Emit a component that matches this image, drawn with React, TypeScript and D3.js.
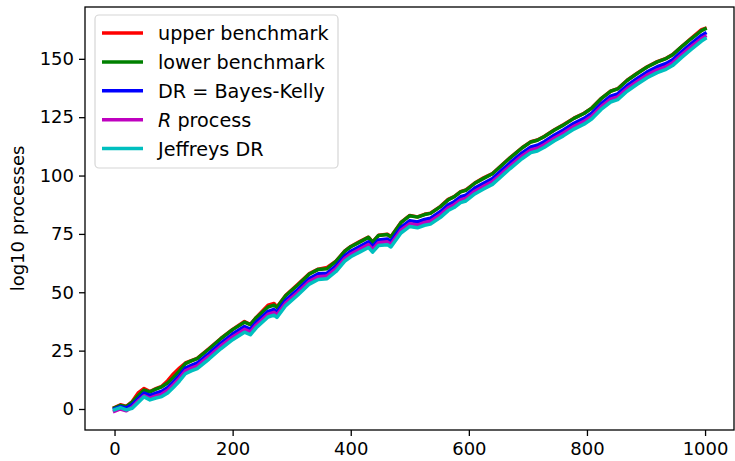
import React, { useRef, useEffect } from 'react';
import * as d3 from 'd3';

// sample positions (steps)
const steps = [
  0, 10, 20, 30, 40, 50, 60, 70, 80, 90, 100, 110, 120, 130, 140, 160, 180, 200, 220, 230,
  240, 260, 270, 275, 290, 310, 330, 345, 360, 375, 390, 400, 415, 430, 437, 447, 462, 468, 485, 500,
  513, 525, 535, 552, 565, 575, 586, 595, 610, 625, 640, 655, 670, 690, 705, 716, 728, 745, 760, 778,
  795, 808, 824, 840, 852, 868, 885, 902, 919, 934, 945, 960, 977, 994, 1000,
];

const upperBenchmark = [
  0.6, 1.8, 1.1, 3.2, 6.9, 8.8, 7.5, 8.7, 9.7, 12.1, 15.1, 17.5, 19.7, 20.7, 21.7, 25.9, 30.2, 34.1, 37.5, 36.2,
  39.2, 44.5, 45.2, 43.7, 48.7, 53.3, 58.0, 59.9, 60.6, 63.3, 67.7, 69.6, 71.7, 73.6, 71.6, 74.4, 74.9, 73.8, 79.9, 82.9,
  82.3, 83.4, 83.9, 86.8, 89.8, 91.0, 93.1, 93.9, 96.8, 99.0, 100.9, 104.3, 107.7, 111.9, 114.5, 115.2, 116.8, 119.6, 121.8, 124.6,
  126.7, 128.9, 133.0, 136.2, 137.2, 140.8, 143.8, 146.6, 148.8, 150.2, 151.8, 155.2, 158.9, 162.5, 163.0,
];

const lowerBenchmark = [
  0.5, 1.5, 1.0, 2.9, 5.7, 8.1, 7.3, 8.5, 9.5, 11.1, 13.6, 16.3, 19.4, 20.6, 21.6, 25.7, 30.1, 34.0, 37.2, 36.1,
  39.1, 43.7, 44.5, 43.5, 48.6, 53.0, 57.8, 59.8, 60.1, 63.2, 67.6, 69.5, 71.5, 73.5, 71.5, 74.3, 74.7, 73.7, 79.8, 82.8,
  82.2, 83.3, 83.8, 86.7, 89.6, 90.9, 93.0, 93.7, 96.7, 98.8, 100.8, 104.2, 107.6, 111.8, 114.4, 115.1, 116.7, 119.5, 121.6, 124.5,
  126.6, 128.8, 132.9, 136.1, 137.1, 140.7, 143.7, 146.5, 148.7, 150.1, 151.7, 155.1, 158.7, 162.1, 162.8,
];

const bayesKelly = [
  0.0, 1.0, 0.4, 1.9, 4.4, 6.8, 5.8, 6.8, 7.6, 9.2, 11.7, 14.4, 17.5, 18.7, 19.7, 23.8, 28.2, 32.1, 35.3, 34.2,
  37.2, 41.8, 42.6, 41.6, 46.7, 51.1, 55.9, 57.9, 58.2, 61.3, 65.7, 67.6, 69.6, 71.6, 69.6, 72.4, 72.8, 71.8, 77.8, 80.7,
  80.1, 81.2, 81.7, 84.6, 87.5, 88.8, 90.9, 91.6, 94.6, 96.7, 98.7, 102.1, 105.5, 109.7, 112.3, 113.0, 114.6, 117.4, 119.5, 122.4,
  124.5, 126.7, 130.8, 134.0, 135.0, 138.6, 141.6, 144.4, 146.6, 148.0, 149.6, 153.0, 156.6, 160.0, 160.9,
];

const rProcess = [
  -1.0, 0.0, -0.8, 0.9, 3.4, 5.7, 4.6, 5.6, 6.4, 8.0, 10.5, 13.2, 16.3, 17.5, 18.5, 22.6, 27.0, 30.9, 34.1, 33.0,
  36.0, 40.6, 41.4, 40.4, 45.5, 49.9, 54.7, 56.7, 57.0, 60.1, 64.5, 66.4, 68.4, 70.4, 68.4, 71.2, 71.6, 70.6, 76.6, 79.4,
  78.8, 79.9, 80.4, 83.3, 86.2, 87.5, 89.6, 90.3, 93.3, 95.4, 97.4, 100.8, 104.2, 108.4, 111.0, 111.7, 113.3, 116.1, 118.2, 121.1,
  123.2, 125.4, 129.5, 132.7, 133.7, 137.3, 140.3, 143.1, 145.3, 146.7, 148.3, 151.7, 155.3, 158.7, 159.6,
];

const jeffreysDR = [
  -0.3, 0.6, -0.4, 0.3, 2.8, 5.2, 3.9, 4.7, 5.3, 6.8, 9.3, 12.0, 15.1, 16.3, 17.3, 21.4, 25.8, 29.7, 32.9, 31.8,
  34.8, 39.4, 40.2, 39.2, 44.3, 48.7, 53.5, 55.5, 55.8, 58.9, 63.3, 65.2, 67.2, 69.2, 67.2, 70.0, 70.4, 69.4, 75.4, 78.2,
  77.6, 78.7, 79.2, 82.1, 85.0, 86.3, 88.4, 89.1, 92.1, 94.2, 96.2, 99.6, 103.0, 107.2, 109.8, 110.5, 112.1, 114.9, 117.0, 119.9,
  122.0, 124.2, 128.3, 131.5, 132.5, 136.1, 139.1, 141.9, 144.1, 145.5, 147.1, 150.5, 154.1, 157.6, 158.6,
];

const series = [
  { name: 'upper benchmark', values: upperBenchmark, color: '#ff0000' },
  { name: 'lower benchmark', values: lowerBenchmark, color: '#008000' },
  { name: 'DR = Bayes-Kelly', values: bayesKelly, color: '#0000ff' },
  { name: 'R process', values: rProcess, color: '#bf00bf' },
  { name: 'Jeffreys DR', values: jeffreysDR, color: '#00bfbf' },
];

const xTicks = [0, 200, 400, 600, 800, 1000];
const yTicks = [0, 25, 50, 75, 100, 125, 150];

const App = () => {
  const svgRef = useRef<SVGSVGElement>(null);

  useEffect(() => {
    const svg = d3.select(svgRef.current);
    svg.selectAll('*').remove();

    const left = 85, right = 734, top = 7, bottom = 430;
    const font = 'DejaVu Sans, sans-serif';

    const x = d3.scaleLinear().domain([-50, 1049]).range([left, right]);
    const y = d3.scaleLinear().domain([-9.0, 172.2]).range([bottom, top]);

    series.forEach(s => {
      const line = d3.line<number>()
        .x((d, i) => x(steps[i]))
        .y(d => y(d));
      svg.append('path')
        .datum(s.values)
        .attr('fill', 'none')
        .attr('stroke', s.color)
        .attr('stroke-width', 3.5)
        .attr('stroke-linejoin', 'round')
        .attr('stroke-linecap', 'square')
        .attr('d', line);
    });

    // axes
    const xAxis = svg.append('g')
      .attr('transform', `translate(0,${bottom})`)
      .call(d3.axisBottom(x).tickValues(xTicks).tickFormat(d3.format('d')).tickSize(6).tickPadding(5).tickSizeOuter(0));
    const yAxis = svg.append('g')
      .attr('transform', `translate(${left},0)`)
      .call(d3.axisLeft(y).tickValues(yTicks).tickFormat(d3.format('d')).tickSize(6).tickPadding(5).tickSizeOuter(0));
    [xAxis, yAxis].forEach(a => {
      a.select('.domain').remove();
      a.selectAll('line').attr('stroke', '#000').attr('stroke-width', 1.3);
      a.selectAll('text').attr('font-family', font).attr('font-size', 18).attr('fill', '#000');
    });
    xAxis.selectAll('text').attr('dy', '0.76em');

    svg.append('rect')
      .attr('x', left).attr('y', top)
      .attr('width', right - left).attr('height', bottom - top)
      .attr('fill', 'none').attr('stroke', '#000').attr('stroke-width', 1.3);

    // y label
    svg.append('text')
      .attr('transform', `translate(24,${(top + bottom) / 2}) rotate(-90)`)
      .attr('text-anchor', 'middle')
      .attr('font-family', font)
      .attr('font-size', 18)
      .text('log10 processes');

    // legend
    const lg = svg.append('g');
    lg.append('rect')
      .attr('x', 95).attr('y', 15).attr('width', 243).attr('height', 153)
      .attr('rx', 4)
      .attr('fill', 'rgba(255,255,255,0.8)')
      .attr('stroke', '#d6d6d6').attr('stroke-width', 1.2);
    series.forEach((s, i) => {
      const cy = 33 + i * 28.9;
      lg.append('line')
        .attr('x1', 102).attr('x2', 143).attr('y1', cy).attr('y2', cy)
        .attr('stroke', s.color).attr('stroke-width', 3.5);
      const t = lg.append('text')
        .attr('x', 158).attr('y', cy + 7)
        .attr('font-family', font)
        .attr('font-size', 19.2);
      if (s.name === 'R process') {
        t.append('tspan').attr('font-style', 'italic').text('R');
        t.append('tspan').text(' process');
      } else {
        t.text(s.name);
      }
    });
  }, []);

  return (
    <svg ref={svgRef} width={735} height={461}
      style={{ position: 'absolute', left: 0, top: 0, background: '#fff' }} />
  );
};

export default App;
